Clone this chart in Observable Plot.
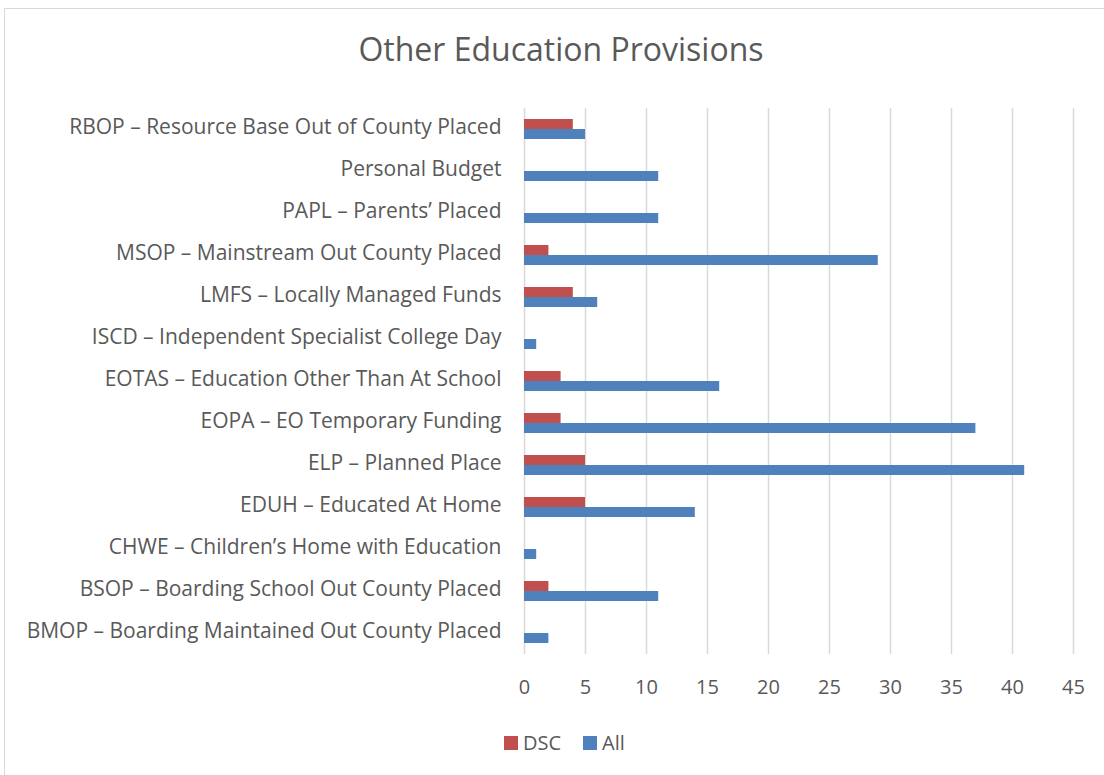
<!DOCTYPE html>
<html>
<head>
<meta charset="utf-8">
<script src="https://cdn.jsdelivr.net/npm/d3@7"></script>
<script src="https://cdn.jsdelivr.net/npm/@observablehq/plot@0.6"></script>
<style>
  html, body { margin: 0; padding: 0; background: #fff; width: 1104px; height: 775px; overflow: hidden; }
  body { position: relative; font-family: "Open Sans", sans-serif; }
  #frame { position: absolute; left: 4px; top: 8px; width: 1200px; height: 900px; border: 1.5px solid #d9d9d9; box-sizing: border-box; }
  #title { position: absolute; top: 27px; left: 0; width: 1122px; text-align: center; font-size: 32px; color: #595959; }
  #chart { position: absolute; left: 0; top: 0; }
  #legend { position: absolute; top: 729px; left: 504px; display: flex; align-items: center; font-size: 20px; color: #595959; }
  .sw { width: 14px; height: 14px; display: inline-block; margin-right: 5px; }
</style>
</head>
<body>
<div id="frame"></div>
<div id="title">Other Education Provisions</div>
<div id="chart"></div>
<div id="legend"></div>
<script>
const categories = [
  "RBOP – Resource Base Out of County Placed",
  "Personal Budget",
  "PAPL – Parents’ Placed",
  "MSOP – Mainstream Out County Placed",
  "LMFS – Locally Managed Funds",
  "ISCD – Independent Specialist College Day",
  "EOTAS – Education Other Than At School",
  "EOPA – EO Temporary Funding",
  "ELP – Planned Place",
  "EDUH – Educated At Home",
  "CHWE – Children’s Home with Education",
  "BSOP – Boarding School Out County Placed",
  "BMOP – Boarding Maintained Out County Placed"
];
const dscValues = [4, 0, 0, 2, 4, 0, 3, 3, 5, 5, 0, 2, 0];
const allValues = [5, 11, 11, 29, 6, 1, 16, 37, 41, 14, 1, 11, 2];
const seriesNames = ["DSC", "All"];
const seriesColors = ["#C0504D", "#4F81BD"];
const xTicks = [0, 5, 10, 15, 20, 25, 30, 35, 40, 45];

const rows = [];
categories.forEach((c, i) => {
  rows.push({category: c, series: "DSC", value: dscValues[i]});
  rows.push({category: c, series: "All", value: allValues[i]});
});

const chart = Plot.plot({
  width: 1104,
  height: 720,
  marginTop: 104,
  marginBottom: 62.5,
  marginLeft: 524,
  marginRight: 31,
  style: {fontFamily: "Open Sans, sans-serif", color: "#595959", background: "transparent"},
  x: {domain: [0, 45], ticks: xTicks, label: null},
  y: {domain: seriesNames, paddingInner: 0, paddingOuter: 0.93, axis: null},
  fy: {domain: categories, padding: 0, label: null},
  color: {domain: seriesNames, range: seriesColors},
  marks: [
    Plot.gridX(xTicks, {stroke: "#d9d9d9", strokeOpacity: 1, strokeWidth: 1.5}),
    Plot.barX(rows, {x: "value", y: "series", fy: "category", fill: "series"}),
    Plot.axisX({ticks: xTicks, tickSize: 0, tickPadding: 25, fontSize: 20, label: null, fill: "#595959"}),
    Plot.axisFy({anchor: "left", tickSize: 0, tickPadding: 23, fontSize: 21, dy: -2, label: null, fill: "#595959"})
  ]
});
document.getElementById("chart").appendChild(chart);

const legend = document.getElementById("legend");
seriesNames.forEach((s, i) => {
  const item = document.createElement("span");
  item.style.display = "flex";
  item.style.alignItems = "center";
  item.style.marginRight = i === 0 ? "22px" : "0";
  const sw = document.createElement("span");
  sw.className = "sw";
  sw.style.background = seriesColors[i];
  item.appendChild(sw);
  item.appendChild(document.createTextNode(s));
  legend.appendChild(item);
});
</script>
</body>
</html>
